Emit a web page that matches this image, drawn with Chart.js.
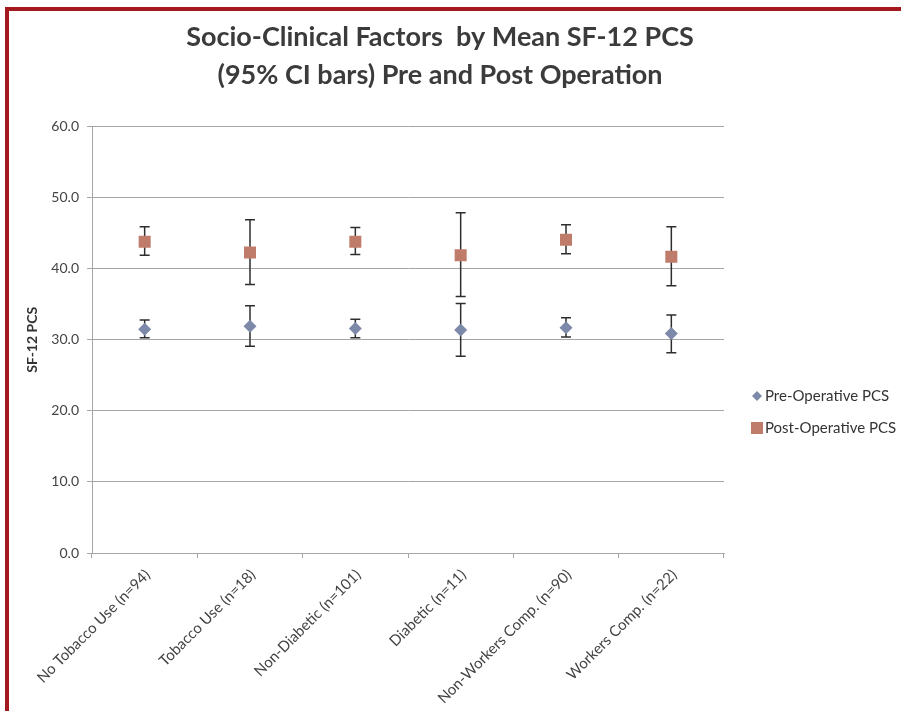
<!DOCTYPE html>
<html>
<head>
<meta charset="utf-8">
<script src="https://cdn.jsdelivr.net/npm/chart.js@4.4.1/dist/chart.umd.min.js"></script>
<style>
  body { margin: 0; background: #fff; }
  #frame { position: absolute; left: 5px; top: 7px; width: 896px; height: 704px;
           border-top: 4px solid #a3191e; border-left: 4px solid #a3191e; box-sizing: border-box; }
</style>
</head>
<body>
<div id="frame"></div>
<canvas id="pcsChart" width="901" height="711" style="position:absolute;left:0;top:0"></canvas>
<script>
const categories = ['No Tobacco Use (n=94)', 'Tobacco Use (n=18)', 'Non-Diabetic (n=101)', 'Diabetic (n=11)', 'Non-Workers Comp. (n=90)', 'Workers Comp. (n=22)'];
const preMean  = [31.5, 31.9, 31.6, 31.4, 31.7, 30.9];
const preLow   = [30.3, 29.1, 30.3, 27.7, 30.4, 28.2];
const preHigh  = [32.8, 34.8, 32.9, 35.1, 33.1, 33.5];
const postMean = [43.8, 42.3, 43.8, 41.9, 44.1, 41.7];
const postLow  = [41.9, 37.8, 42.0, 36.1, 42.1, 37.6];
const postHigh = [45.9, 46.9, 45.8, 47.9, 46.2, 45.9];
const yTicks = [0, 10, 20, 30, 40, 50, 60];

const PRE_COLOR = '#7d89a8';
const POST_COLOR = '#c07c6a';

// Error bars (95% CI), drawn under the markers
const errorBars = {
    id: 'errorBars',
    beforeDatasetsDraw(chart) {
        const ctx = chart.ctx;
        const y = chart.scales.y;
        ctx.save();
        ctx.strokeStyle = '#2e2e2e';
        ctx.lineWidth = 1.5;
        chart.data.datasets.forEach((ds, di) => {
            const meta = chart.getDatasetMeta(di);
            meta.data.forEach((pt, i) => {
                const top = y.getPixelForValue(ds.ciHigh[i]);
                const bot = y.getPixelForValue(ds.ciLow[i]);
                ctx.beginPath();
                ctx.moveTo(pt.x, top); ctx.lineTo(pt.x, bot);
                ctx.moveTo(pt.x - 5, top); ctx.lineTo(pt.x + 5, top);
                ctx.moveTo(pt.x - 5, bot); ctx.lineTo(pt.x + 5, bot);
                ctx.stroke();
            });
        });
        ctx.restore();
    }
};

// Legend on the right, Excel style
const sideLegend = {
    id: 'sideLegend',
    afterDraw(chart) {
        const ctx = chart.ctx;
        ctx.save();
        ctx.font = '15px Lato';
        ctx.textBaseline = 'middle';
        chart.data.datasets.forEach((ds, di) => {
            const cx = 757, cy = 396 + di * 32;
            ctx.fillStyle = ds.backgroundColor;
            ctx.beginPath();
            if (ds.pointStyle === 'rectRot') {
                ctx.moveTo(cx - 5, cy); ctx.lineTo(cx, cy - 5);
                ctx.lineTo(cx + 5, cy); ctx.lineTo(cx, cy + 5);
            } else {
                ctx.rect(cx - 6, cy - 6, 12, 12);
            }
            ctx.closePath();
            ctx.fill();
            ctx.fillStyle = '#333';
            ctx.fillText(ds.label, cx + 8, cy);
        });
        ctx.restore();
    }
};

new Chart(document.getElementById('pcsChart'), {
    type: 'line',
    data: {
        labels: categories,
        datasets: [{
            label: 'Pre-Operative PCS',
            data: preMean,
            ciLow: preLow,
            ciHigh: preHigh,
            showLine: false,
            pointStyle: 'rectRot',
            pointRadius: 6.5,
            pointHoverRadius: 6.5,
            backgroundColor: PRE_COLOR,
            borderColor: PRE_COLOR,
            pointBorderWidth: 0
        }, {
            label: 'Post-Operative PCS',
            data: postMean,
            ciLow: postLow,
            ciHigh: postHigh,
            showLine: false,
            pointStyle: 'rect',
            pointRadius: 8.5,
            pointHoverRadius: 8.5,
            backgroundColor: POST_COLOR,
            borderColor: POST_COLOR,
            pointBorderWidth: 0
        }]
    },
    options: {
        responsive: false,
        animation: false,
        layout: { padding: { left: 0, right: 21, top: 0, bottom: 0 } },
        plugins: {
            legend: { display: false },
            tooltip: { enabled: false },
            title: {
                display: true,
                text: ['Socio-Clinical Factors  by Mean SF-12 PCS', '(95% CI bars) Pre and Post Operation'],
                color: '#3b3b3b',
                font: { family: 'Lato', size: 27, weight: 'bold', lineHeight: 1.42 },
                padding: { top: 18, bottom: 32 }
            }
        },
        scales: {
            x: {
                offset: true,
                grid: { offset: true, drawOnChartArea: false, color: '#a6a6a6', tickLength: 5 },
                border: { color: '#a6a6a6' },
                ticks: { minRotation: 45, maxRotation: 45, labelOffset: 3, padding: 8, color: '#444', font: { family: 'Lato', size: 15 } },
                afterFit(scale) { scale.height = 158; }
            },
            y: {
                min: 0,
                max: 60,
                afterBuildTicks(scale) { scale.ticks = yTicks.map(v => ({ value: v })); },
                grid: { color: '#a6a6a6', tickLength: 5 },
                border: { color: '#a6a6a6' },
                ticks: { color: '#444', padding: 8, font: { family: 'Lato', size: 14 }, callback: v => v.toFixed(1) },
                title: { display: true, text: 'SF-12 PCS', color: '#333', padding: { top: 24, bottom: 0 },
                         font: { family: 'Lato', size: 14, weight: 'bold' } },
                afterFit(scale) { scale.width = 92; }
            },
            // empty right-hand axis that keeps room for the legend
            side: {
                position: 'right',
                display: true,
                grid: { display: false },
                border: { display: false },
                ticks: { display: false },
                afterFit(scale) { scale.width = 156; }
            }
        }
    },
    plugins: [errorBars, sideLegend]
});
</script>
</body>
</html>
